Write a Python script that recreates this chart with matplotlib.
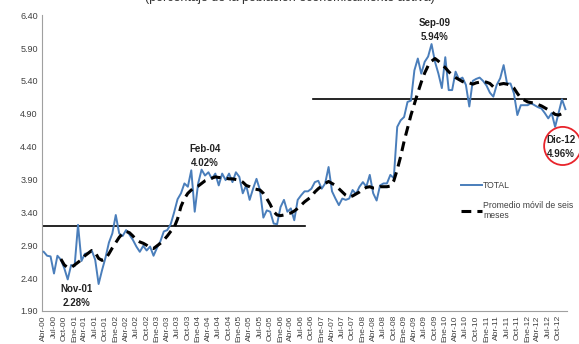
import matplotlib
matplotlib.use("Agg")
import matplotlib.pyplot as plt
from matplotlib.patches import Ellipse

plt.rcParams['font.family'] = ['Liberation Sans', 'DejaVu Sans']

# monthly series, Abr-00 .. Dic-12
total = [2.80, 2.74, 2.73, 2.47, 2.74, 2.68, 2.55, 2.38, 2.60, 2.58,
         3.21, 2.66, 2.77, 2.78, 2.82, 2.68, 2.31, 2.52, 2.71, 2.94,
         3.08, 3.36, 3.08, 3.04, 3.13, 3.06, 2.98, 2.88, 2.80, 2.89,
         2.82, 2.88, 2.74, 2.86, 2.96, 3.11, 3.13, 3.22, 3.40, 3.60,
         3.69, 3.84, 3.79, 4.04, 3.41, 3.84, 4.05, 3.96, 4.01, 3.91,
         3.99, 3.81, 3.99, 3.89, 3.99, 3.86, 4.01, 3.94, 3.69, 3.81,
         3.59, 3.76, 3.91, 3.74, 3.32, 3.43, 3.41, 3.23, 3.22, 3.48,
         3.59, 3.41, 3.46, 3.28, 3.59, 3.66, 3.72, 3.72, 3.76, 3.86,
         3.88, 3.76, 3.84, 4.09, 3.72, 3.61, 3.51, 3.61, 3.59, 3.61,
         3.74, 3.68, 3.79, 3.86, 3.79, 3.97, 3.69, 3.58, 3.81, 3.84,
         3.84, 3.97, 3.92, 4.70, 4.80, 4.85, 5.08, 5.10, 5.56, 5.74,
         5.51, 5.69, 5.77, 5.96, 5.69, 5.51, 5.29, 5.76, 5.26, 5.26,
         5.54, 5.42, 5.45, 5.34, 5.01, 5.40, 5.43, 5.45, 5.40, 5.33,
         5.22, 5.16, 5.34, 5.44, 5.64, 5.36, 5.36, 5.21, 4.88, 5.03,
         5.03, 5.03, 5.06, 5.03, 5.00, 4.98, 4.91, 4.83, 4.91, 4.70,
         4.91, 5.12, 4.97]

# six month moving average, starts at Sep-00 (index 5)
prom_start = 5
promedio = [2.69, 2.60, 2.56, 2.56, 2.60,
            2.64, 2.68, 2.74, 2.78, 2.82, 2.79, 2.70, 2.67, 2.69, 2.77,
            2.86, 2.94, 3.02, 3.08, 3.11, 3.09, 3.04, 2.98, 2.95, 2.93,
            2.90, 2.86, 2.85, 2.89, 2.93, 2.98, 3.04, 3.11, 3.17, 3.30,
            3.49, 3.61, 3.69, 3.74, 3.78, 3.80, 3.84, 3.88, 3.90, 3.92,
            3.94, 3.93, 3.93, 3.92, 3.91, 3.91, 3.90, 3.89, 3.86, 3.81,
            3.79, 3.76, 3.75, 3.74, 3.69, 3.61, 3.52, 3.41, 3.36, 3.35,
            3.36, 3.38, 3.39, 3.42, 3.46, 3.51, 3.56, 3.60, 3.64, 3.71,
            3.76, 3.80, 3.84, 3.87, 3.84, 3.81, 3.76, 3.71, 3.66, 3.63,
            3.65, 3.68, 3.71, 3.75, 3.78, 3.79, 3.77, 3.77, 3.79, 3.79,
            3.79, 3.80, 3.88, 4.05, 4.25, 4.48, 4.68, 4.88, 5.05, 5.22,
            5.38, 5.52, 5.63, 5.70, 5.74, 5.70, 5.65, 5.60, 5.54, 5.49,
            5.45, 5.42, 5.39, 5.37, 5.37, 5.35, 5.37, 5.38, 5.39, 5.38,
            5.36, 5.31, 5.33, 5.35, 5.36, 5.35, 5.33, 5.29, 5.21, 5.14,
            5.11, 5.08, 5.07, 5.06, 5.04, 5.02, 4.99, 4.96, 4.93, 4.89,
            4.88, 4.90, 4.93]

# reference levels (period averages) and their month spans
ref_levels = [3.19, 5.12]
ref_from = [-0.5, 78.4]
ref_to = [76.1, 152.5]

# callouts: label, value, month index, y
callouts = [("Nov-01", "2.28%", 9.6, 2.31),
            ("Feb-04", "4.02%", 47.0, 4.44),
            ("Sep-09", "5.94%", 113.8, 6.35),
            ("Dic-12", "4.96%", 150.6, 4.57)]

quarters = ["Abr", "Jul", "Oct", "Ene"]
tick_labels = []
for k in range(51):
    yr = 2000 + (k + 1) // 4
    tick_labels.append("%s-%02d" % (quarters[k % 4], yr % 100))

months = list(range(len(total)))
pm = list(range(prom_start, prom_start + len(promedio)))

fig = plt.figure(figsize=(5.79, 3.44), dpi=100)
ax = fig.add_axes([0.0725, 0.096, 0.907, 0.86])

ax.plot(months, total, color='#4a7ebb', lw=1.4, label='TOTAL', zorder=3)
ax.plot(pm, promedio, color='black', lw=2.2, ls=(0, (3.2, 2.0)),
        label='Promedio móvil de seis\nmeses', zorder=4)
for lv, a, b in zip(ref_levels, ref_from, ref_to):
    ax.plot([a, b], [lv, lv], color='black', lw=1.2, zorder=2)

for lab, val, xi, yv in callouts:
    ax.text(xi, yv, lab + "\n" + val, ha='center', va='top', fontsize=7,
            fontweight='bold', color='#222222', linespacing=1.5, zorder=5)

ax.add_patch(Ellipse((151.2, 4.41), 10.8, 0.58, fill=False, ec='#e8242b',
                     lw=1.3, clip_on=False, zorder=6))

ax.set_xlim(-0.5, 152.5)
ax.set_ylim(1.90, 6.40)
ax.set_yticks([1.90 + 0.5 * k for k in range(10)])
ax.set_yticklabels(["%.2f" % (1.90 + 0.5 * k) for k in range(10)],
                   fontsize=6.5, color='#404040')
ax.set_xticks(list(range(0, 151, 3)))
ax.set_xticklabels(tick_labels, rotation=90, fontsize=6, color='#404040')
ax.tick_params(length=0, pad=3)
for s in ['top', 'right']:
    ax.spines[s].set_visible(False)
for s in ['left', 'bottom']:
    ax.spines[s].set_color('#a0a0a0')
    ax.spines[s].set_linewidth(0.8)

fig.legend(loc='upper left', bbox_to_anchor=(458 / 579, 1 - 178 / 344),
           frameon=False, fontsize=6.2, handlelength=2.4, labelspacing=1.2,
           handletextpad=0.1, labelcolor='#404040', borderaxespad=0)

fig.text(0.5, 1.005, "(porcentaje de la población económicamente activa)",
         ha='center', va='center', fontsize=9, color='#333333')

plt.savefig('out.png', dpi=100)
